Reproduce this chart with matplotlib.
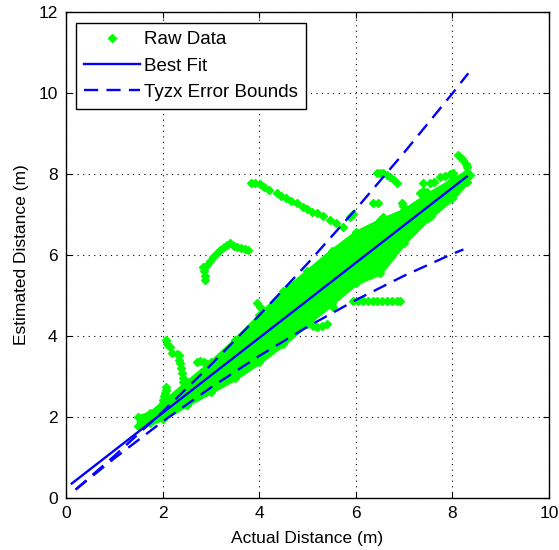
import matplotlib
matplotlib.use("Agg")
import matplotlib.pyplot as plt
from matplotlib.lines import Line2D

plt.rcParams['font.family'] = ['Liberation Sans', 'DejaVu Sans']

# ---- data ----
# dense band of raw data (lower / upper envelope)
band_x  = [1.5, 1.75, 2.0, 2.5, 3.0, 3.5, 4.0, 4.5, 5.0, 5.5, 6.0, 6.5, 7.0, 7.5, 8.0, 8.3]
band_lo = [1.78, 1.85, 1.95, 2.3, 2.62, 2.95, 3.35, 3.8, 4.3, 4.8, 5.3, 5.55, 6.3, 6.9, 7.4, 7.8]
band_hi = [2.0, 2.1, 2.35, 2.85, 3.35, 3.9, 4.5, 5.1, 5.6, 6.1, 6.55, 6.85, 7.1, 7.5, 7.85, 8.05]

# scattered raw-data tracks outside the dense band
raw_x = [3.84, 3.92, 4.02, 4.10, 4.20, 4.36, 4.46, 4.56, 4.66, 4.78, 4.90, 5.00, 5.10, 5.19, 5.33, 5.47, 5.60, 5.74,
         2.84, 2.86, 2.88, 2.88, 2.92, 2.98, 3.05, 3.12, 3.19, 3.27, 3.34, 3.40, 3.48, 3.55, 3.62, 3.70, 3.77,
         2.07, 2.10, 2.15, 2.19, 2.30, 2.35, 2.34, 2.36, 2.38, 2.40, 2.43, 2.42, 2.08, 2.07, 2.05, 2.03, 2.01, 2.04,
         2.71, 2.78, 2.86, 2.91, 2.98,
         5.95, 6.05, 6.15, 6.25, 6.35, 6.45, 6.55, 6.65, 6.75, 6.85, 6.92,
         5.53, 5.12, 5.20, 5.30, 5.40,
         7.33, 7.40, 7.47, 7.40, 7.54, 7.62, 7.74, 7.85, 7.95, 8.02, 8.12, 8.18, 8.23, 8.28, 8.30, 8.36, 8.30,
         6.43, 6.50, 6.57, 6.64, 6.71, 6.80, 6.85, 6.36, 6.46, 6.95, 6.98, 7.47, 7.55,
         5.88, 5.95, 6.57, 6.70, 3.95, 4.02]
raw_y = [7.76, 7.76, 7.74, 7.66, 7.60, 7.52, 7.46, 7.40, 7.33, 7.27, 7.18, 7.12, 7.06, 7.02, 6.95, 6.86, 6.78, 6.69,
         5.70, 5.60, 5.48, 5.38, 5.75, 5.85, 5.95, 6.05, 6.12, 6.20, 6.25, 6.28, 6.22, 6.18, 6.16, 6.14, 6.12,
         3.89, 3.80, 3.73, 3.58, 3.56, 3.52, 3.40, 3.32, 3.20, 3.07, 2.95, 2.85, 2.74, 2.65, 2.58, 2.50, 2.41, 2.33,
         3.36, 3.38, 3.34, 3.30, 3.18,
         4.86, 4.86, 4.86, 4.86, 4.86, 4.86, 4.86, 4.86, 4.86, 4.86, 4.86,
         4.72, 4.25, 4.22, 4.25, 4.30,
         7.52, 7.58, 7.56, 7.76, 7.76, 7.80, 7.93, 7.95, 8.00, 8.01, 8.46, 8.40, 8.34, 8.25, 8.17, 7.96, 8.00,
         8.01, 8.01, 8.01, 7.97, 7.93, 7.84, 7.76, 7.27, 7.27, 7.27, 7.20, 6.94, 6.96,
         6.94, 7.00, 6.94, 6.85, 4.80, 4.72]

# best fit line
fit_x = [0.12, 8.30]
fit_y = [0.35, 7.93]

# Tyzx error bounds
up_x = [0.2, 1.0, 2.0, 3.0, 4.0, 5.0, 6.0, 7.0, 8.0, 8.33]
up_y = [0.2, 1.03, 2.12, 3.28, 4.50, 5.78, 7.12, 8.52, 9.98, 10.48]
lo_x = [0.2, 1.0, 2.0, 3.0, 4.0, 5.0, 6.0, 7.0, 8.0, 8.23]
lo_y = [0.2, 0.97, 1.88, 2.72, 3.50, 4.22, 4.88, 5.48, 6.02, 6.13]

x_ticks = [0, 2, 4, 6, 8, 10]
y_ticks = [0, 2, 4, 6, 8, 10, 12]

GREEN = '#00ff00'
BLUE = '#0000ff'
FS = 12.5
MS = 4.5

fig = plt.figure(figsize=(5.59, 5.50), dpi=100)
ax = fig.add_axes([0.118, 0.0951, 0.864, 0.8836])

ax.fill_between(band_x, band_lo, band_hi, color=GREEN, linewidth=3, edgecolor=GREEN, zorder=2)
ax.plot(band_x, band_lo, 'D', color=GREEN, ms=MS, linestyle='none', zorder=2)
ax.plot(band_x, band_hi, 'D', color=GREEN, ms=MS, linestyle='none', zorder=2)
ax.plot(raw_x, raw_y, 'D', color=GREEN, ms=MS, linestyle='none', zorder=2)

ax.plot(fit_x, fit_y, '-', color=BLUE, lw=1.7, zorder=4)
ax.plot(up_x, up_y, color=BLUE, lw=1.7, dashes=(6, 3.5), zorder=4)
ax.plot(lo_x, lo_y, color=BLUE, lw=1.7, dashes=(6, 3.5), zorder=4)

ax.set_xlim(0, 10)
ax.set_ylim(0, 12)
ax.set_xticks(x_ticks)
ax.set_yticks(y_ticks)
ax.tick_params(direction='in', top=True, right=True, length=4, width=0.8,
               labelsize=FS, colors='black', pad=6)
ax.grid(True, color='black', linewidth=0.8, linestyle=(0, (1, 4)))
for s in ax.spines.values():
    s.set_linewidth(1.0)
    s.set_color('black')

ax.set_xlabel('Actual Distance (m)', fontsize=FS, labelpad=7)
ax.set_ylabel('Estimated Distance (m)', fontsize=FS, labelpad=7)

handles = [Line2D([], [], marker='D', color=GREEN, ms=MS, linestyle='none'),
           Line2D([], [], color=BLUE, lw=1.7),
           Line2D([], [], color=BLUE, lw=1.7, dashes=(6, 3.5))]
labels = ['Raw Data', 'Best Fit', 'Tyzx Error Bounds']
leg = ax.legend(handles, labels, loc='upper left', bbox_to_anchor=(0.0207, 0.976),
                fontsize=13.5, frameon=True, fancybox=False, framealpha=1,
                edgecolor='black', borderpad=0.42, labelspacing=0.48,
                handlelength=3.0, handletextpad=0.22, borderaxespad=0, numpoints=1)
leg.get_frame().set_linewidth(1.0)

fig.savefig('out.png', dpi=100)
